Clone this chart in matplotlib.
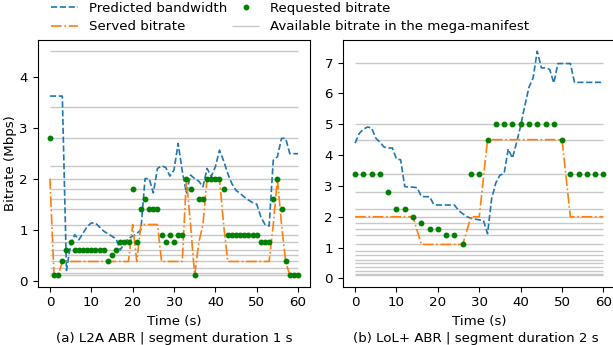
import matplotlib
matplotlib.use("Agg")
import matplotlib.pyplot as plt
import numpy as np

plt.rcParams['font.size'] = 9.65

# L2A ABR, 1 s segments
t_a = np.arange(0, 61)
pred_a = [3.62, 3.62, 3.62, 3.62, 0.2, 0.7, 0.9, 0.8, 0.93, 1.06,
          1.13, 1.13, 1.05, 0.97, 0.92, 0.87, 0.82, 0.6, 0.73, 0.83,
          0.87, 0.92, 1.0, 2.0, 2.0, 1.72, 2.2, 2.25, 2.22, 2.05,
          2.17, 2.69, 2.15, 1.72, 2.07, 2.0, 1.95, 1.84, 2.2, 2.04,
          2.23, 2.56, 2.35, 2.1, 1.9, 1.77, 1.71, 1.64, 1.58, 1.53,
          1.5, 1.25, 1.1, 1.07, 2.36, 2.43, 2.79, 2.79, 2.49, 2.49, 2.49]
served_a = ([2.0, 0.1, 0.1] + [0.375] * 17 + [1.1, 0.375] + [1.1] * 5
            + [0.375] * 6 + [2.0, 1.1, 0.1, 0.75, 1.1] + [2.0] * 4 + [1.1]
            + [0.375] * 11 + [1.1, 2.0, 1.1, 0.375] + [0.1] * 3)
req_a = ([2.8, 0.1, 0.1, 0.375, 0.6, 0.75] + [0.6] * 8 + [0.375, 0.5, 0.6]
         + [0.75] * 3 + [1.8, 0.75, 1.4, 1.6] + [1.4] * 3
         + [0.9, 0.75, 0.9, 0.75, 0.9, 0.9, 2.0, 1.8, 0.1, 1.6, 1.6]
         + [2.0] * 4 + [1.8] + [0.9] * 8 + [0.75] * 3
         + [1.6, 2.0, 1.4, 0.375] + [0.1] * 3)
ladder_a = [0.1, 0.15, 0.25, 0.375, 0.5, 0.6, 0.75, 0.9, 1.1, 1.4, 1.6,
            1.8, 2.0, 2.25, 2.8, 3.4, 4.5]

# LoL+ ABR, 2 s segments
t_b_pred = np.arange(0, 61)
pred_b = [4.39, 4.7, 4.84, 4.91, 4.88, 4.55, 4.42, 4.26, 4.23, 4.23,
          3.87, 3.85, 2.98, 2.96, 2.96, 2.94, 2.66, 2.65, 2.65, 2.4,
          2.38, 2.38, 2.38, 2.38, 2.38, 2.2, 2.1, 2.0, 1.95, 1.92,
          1.9, 1.88, 1.45, 2.6, 3.1, 3.35, 3.4, 4.2, 3.9, 4.4,
          4.95, 5.6, 6.2, 6.5, 7.37, 6.83, 6.83, 6.78, 6.34, 6.97,
          6.97, 6.97, 6.97, 6.36, 6.36, 6.36, 6.36, 6.36, 6.36, 6.36, 6.36]
t_b = np.arange(0, 61, 2)
served_b = [2.0] * 8 + [1.1] * 6 + [2.0, 2.0] + [4.5] * 10 + [2.0] * 5
req_b = ([3.4] * 4 + [2.8, 2.25, 2.25, 2.0, 1.8, 1.6, 1.6, 1.4, 1.4, 1.1,
         3.4, 3.4, 4.5] + [5.0] * 8 + [4.5] + [3.4] * 5)
ladder_b = ladder_a + [5.0, 7.0]

fig = plt.figure(figsize=(6.13, 3.45), dpi=100)
ax1 = fig.add_axes([0.0612, 0.169, 0.4453, 0.7165])
ax2 = fig.add_axes([0.559, 0.169, 0.4457, 0.7165])


def draw(ax, t_pred, pred, t_seg, served, req, ladder):
    hl = ax.hlines(ladder, 0, 60, colors='#c8c8c8', lw=1, zorder=1)
    bl, = ax.plot(t_pred, pred, '--', color='tab:blue', lw=1.2, zorder=2)
    ol, = ax.plot(t_seg, served, '-.', color='tab:orange', lw=1.2, zorder=3)
    gl, = ax.plot(t_seg, req, 'o', color='green', ms=3.2, ls='none', zorder=4)
    ax.set_xlim(-3, 63)
    ax.set_xticks(range(0, 61, 10))
    ax.set_xlabel('Time (s)')
    return bl, ol, gl, hl


handles = draw(ax1, t_a, pred_a, t_a, served_a, req_a, ladder_a)
draw(ax2, t_b_pred, pred_b, t_b, served_b, req_b, ladder_b)

ax1.set_ylim(-0.12, 4.73)
ax1.set_yticks(range(0, 5))
ax1.set_ylabel('Bitrate (Mbps)')
ax1.yaxis.set_label_coords(-0.075, 0.5)
ax2.set_ylim(-0.27, 7.75)
ax2.set_yticks(range(0, 8))

ax1.text(0.5, -0.211, '(a) L2A ABR | segment duration 1 s',
         transform=ax1.transAxes, ha='center', va='center')
ax2.text(0.5 - 0.011, -0.211, '(b) LoL+ ABR | segment duration 2 s',
         transform=ax2.transAxes, ha='center', va='center')

bl, ol, gl, hl = handles
fig.legend([bl, ol, gl, hl],
           ['Predicted bandwidth', 'Served bitrate', 'Requested bitrate',
            'Available bitrate in the mega-manifest'],
           ncol=2, loc='upper center', bbox_to_anchor=(0.473, 1.018),
           frameon=False, columnspacing=0.4, labelspacing=0.4,
           numpoints=1, borderaxespad=0.2)

fig.savefig('out.png', dpi=100)
